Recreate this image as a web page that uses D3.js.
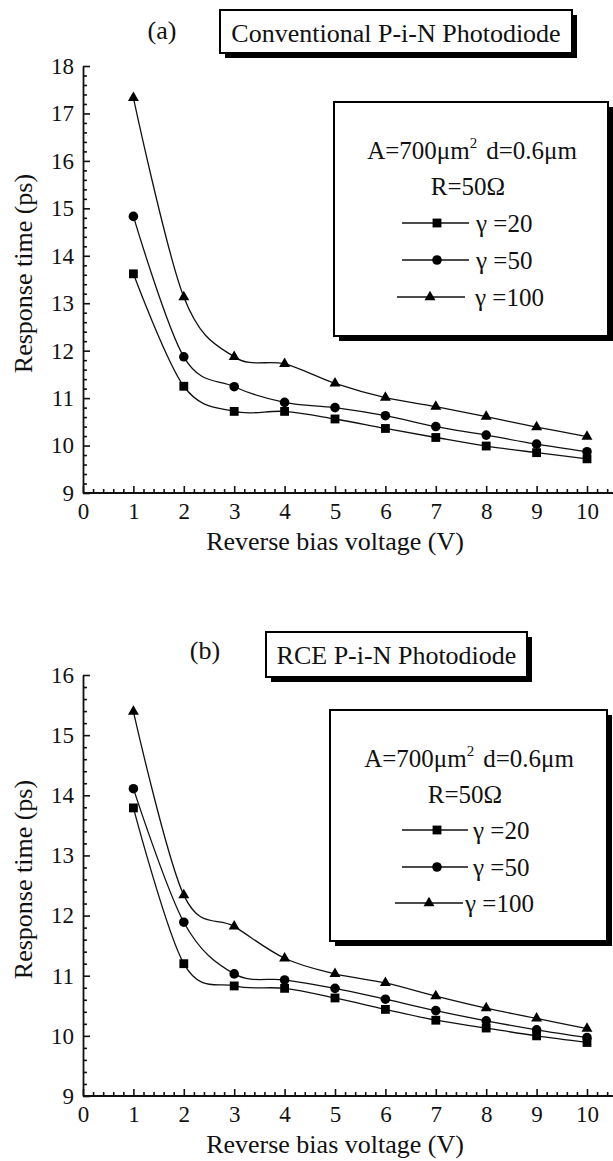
<!DOCTYPE html>
<html lang="en">
<head>
<meta charset="utf-8">
<title>Response time vs reverse bias</title>
<script src="https://cdn.jsdelivr.net/npm/d3@7"></script>
<style>
  body { margin: 0; background: #fff; }
  svg { display: block; }
  text { font-family: "Liberation Serif", "Times New Roman", serif; fill: #111; }
</style>
</head>
<body>
<script>
// data
var volts = [1, 2, 3, 4, 5, 6, 7, 8, 9, 10];
var convG20  = [13.62, 11.25, 10.72, 10.72, 10.56, 10.36, 10.17, 9.99, 9.85, 9.72];
var convG50  = [14.83, 11.87, 11.24, 10.91, 10.80, 10.63, 10.40, 10.22, 10.03, 9.87];
var convG100 = [17.33, 13.13, 11.87, 11.72, 11.31, 11.01, 10.82, 10.61, 10.39, 10.19];
var rceG20  = [13.79, 11.20, 10.83, 10.79, 10.63, 10.44, 10.26, 10.13, 10.00, 9.89];
var rceG50  = [14.11, 11.89, 11.03, 10.93, 10.79, 10.61, 10.42, 10.25, 10.10, 9.97];
var rceG100 = [15.39, 12.34, 11.82, 11.29, 11.03, 10.88, 10.66, 10.46, 10.29, 10.12];
var seriesLabels = ["\u03b3 =20", "\u03b3 =50", "\u03b3 =100"];
var xTicks = [0, 1, 2, 3, 4, 5, 6, 7, 8, 9, 10];
var yTicksA = [9, 10, 11, 12, 13, 14, 15, 16, 17, 18];
var yTicksB = [9, 10, 11, 12, 13, 14, 15, 16];

var w = 613, h = 1161;
var svg = d3.select("body").append("svg").attr("width", w).attr("height", h);

var symbols = [d3.symbolSquare, d3.symbolCircle, d3.symbolTriangle];
var symSizes = [78, 72, 52];

function box(x, y, bw, bh, sh) {
  svg.append("rect").attr("x", x + sh).attr("y", y + sh).attr("width", bw).attr("height", bh).attr("fill", "#000");
  svg.append("rect").attr("x", x).attr("y", y).attr("width", bw).attr("height", bh)
    .attr("fill", "#fff").attr("stroke", "#000").attr("stroke-width", 2);
}

function panel(p) {
  var x = d3.scaleLinear().domain([0, 10]).range([83, 587]);
  var y = d3.scaleLinear().domain([9, p.yMax]).range([p.bottom, p.top]);
  var g = svg.append("g");

  // minor ticks
  var xMinor = d3.range(0, 10.61, 0.2).filter(function(v) { return Math.abs(v - Math.round(v)) > 1e-6; });
  var yMinor = d3.range(9, p.yMax + 0.01, 0.2).filter(function(v) { return Math.abs(v - Math.round(v)) > 1e-6; });
  g.append("g").attr("transform", "translate(0," + p.bottom + ")")
    .call(d3.axisBottom(x).tickValues(xMinor).tickSize(-4).tickFormat(""))
    .call(function(s) { s.select(".domain").remove(); });
  g.append("g").attr("transform", "translate(83,0)")
    .call(d3.axisLeft(y).tickValues(yMinor).tickSize(-4).tickFormat(""))
    .call(function(s) { s.select(".domain").remove(); });

  // major axes
  var xa = g.append("g").attr("transform", "translate(0," + p.bottom + ")")
    .call(d3.axisBottom(x).tickValues(xTicks).tickSize(-7).tickSizeOuter(0).tickPadding(10).tickFormat(d3.format("d")));
  xa.select(".domain").attr("d", "M83,0H613");
  var ya = g.append("g").attr("transform", "translate(83,0)")
    .call(d3.axisLeft(y).tickValues(p.yTicks).tickSize(-7).tickSizeOuter(0).tickPadding(9).tickFormat(d3.format("d")));
  g.selectAll(".tick text").attr("font-size", 23).attr("font-family", "Liberation Serif, serif").attr("fill", "#111");
  g.selectAll(".domain, .tick line").attr("stroke", "#111").attr("stroke-width", 1.6);
  ya.select(".domain").attr("stroke-width", 1.8);
  xa.select(".domain").attr("stroke-width", 1.8);

  // axis titles
  g.append("text").attr("x", 335).attr("y", p.bottom + 57).attr("text-anchor", "middle")
    .attr("font-size", 26).text("Reverse bias voltage (V)");
  g.append("text").attr("transform", "translate(32," + ((p.top + p.bottom) / 2 - 6) + ") rotate(-90)")
    .attr("text-anchor", "middle").attr("font-size", 26).text("Response time (ps)");

  // curves
  var line = d3.line().curve(d3.curveCatmullRom.alpha(0))
    .x(function(d) { return x(d[0]); }).y(function(d) { return y(d[1]); });
  p.series.forEach(function(vals, i) {
    var pts = volts.map(function(v, j) { return [v, vals[j]]; });
    g.append("path").attr("d", line(pts)).attr("fill", "none").attr("stroke", "#111").attr("stroke-width", 1.3);
    g.selectAll(null).data(pts).enter().append("path")
      .attr("transform", function(d) { return "translate(" + x(d[0]) + "," + y(d[1]) + ")"; })
      .attr("d", d3.symbol().type(symbols[i]).size(symSizes[i]))
      .attr("fill", "#000");
  });

  // panel label and title box
  svg.append("text").attr("x", p.labelX).attr("y", p.labelY).attr("text-anchor", "middle")
    .attr("font-size", 26).text(p.label);
  box(p.tBox[0], p.tBox[1], p.tBox[2], p.tBox[3], 5);
  svg.append("text").attr("x", p.tBox[0] + p.tBox[2] / 2).attr("y", p.tBox[1] + 32)
    .attr("text-anchor", "middle").attr("font-size", 26).text(p.title);

  // legend
  var L = p.legend;
  box(L.x, L.y, L.w, L.h, 5);
  var t1 = svg.append("text").attr("x", L.cx).attr("y", L.y + 57).attr("text-anchor", "middle").attr("font-size", 25);
  t1.append("tspan").text("A=700\u03bcm");
  t1.append("tspan").attr("dy", -11).attr("font-size", 15).text("2");
  t1.append("tspan").attr("dy", 11).attr("dx", 9).text("d=0.6\u03bcm");
  svg.append("text").attr("x", L.cx - 4).attr("y", L.y + 93).attr("text-anchor", "middle").attr("font-size", 25).text("R=50\u03a9");
  seriesLabels.forEach(function(lab, i) {
    var r = L.rows[i];
    var yy = L.y + r[0];
    svg.append("line").attr("x1", r[1]).attr("x2", r[2]).attr("y1", yy).attr("y2", yy)
      .attr("stroke", "#111").attr("stroke-width", 1.5);
    svg.append("path").attr("transform", "translate(" + r[3] + "," + yy + ")")
      .attr("d", d3.symbol().type(symbols[i]).size(symSizes[i])).attr("fill", "#000");
    svg.append("text").attr("x", r[4]).attr("y", yy + 9).attr("font-size", 25).text(lab);
  });
}

panel({
  top: 66, bottom: 493, yMax: 18, yTicks: yTicksA,
  series: [convG20, convG50, convG100],
  label: "(a)", labelX: 162, labelY: 39,
  title: "Conventional P-i-N Photodiode", tBox: [220, 10, 352, 43],
  legend: { x: 334, y: 102, w: 274, h: 234, cx: 472,
    rows: [[121, 402, 469, 437, 476], [158, 402, 469, 437, 476], [195, 397, 465, 430, 475]] }
});

panel({
  top: 675, bottom: 1096, yMax: 16, yTicks: yTicksB,
  series: [rceG20, rceG50, rceG100],
  label: "(b)", labelX: 205, labelY: 659,
  title: "RCE P-i-N Photodiode", tBox: [266, 632, 261, 45],
  legend: { x: 330, y: 710, w: 277, h: 231, cx: 469,
    rows: [[120, 402, 468, 437, 473], [157, 402, 468, 437, 473], [193, 395, 463, 429, 465]] }
});
</script>
</body>
</html>
